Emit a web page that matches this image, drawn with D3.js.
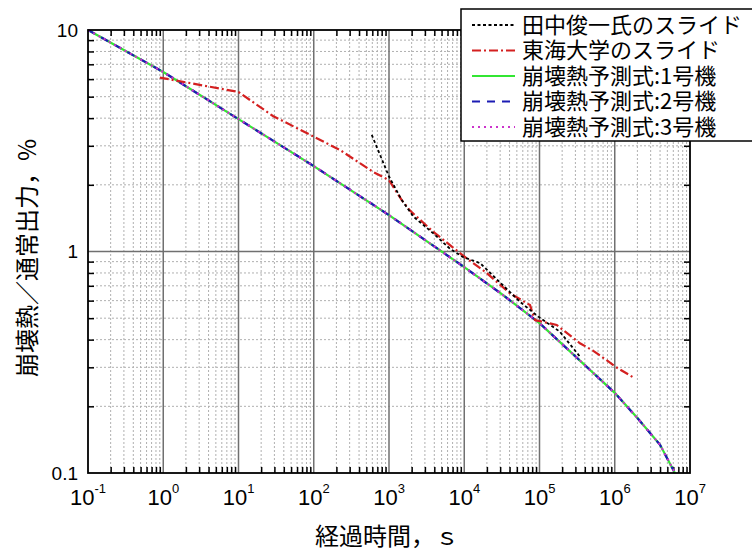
<!DOCTYPE html>
<html><head><meta charset="utf-8">
<script src="https://cdn.jsdelivr.net/npm/d3@7"></script>
<style>
html,body{margin:0;padding:0;background:#fff;}
svg{display:block;}
</style>
</head><body>
<svg id="chart" width="752" height="551"></svg>
<script>
// ---- data ----
const xExponents = [-1, 0, 1, 2, 3, 4, 5, 6, 7];
const yTickValues = [0.1, 1, 10];
const yTickLabels = ["0.1", "1", "10"];

const seriesNames = ["田中俊一氏のスライド", "東海大学のスライド", "崩壊熱予測式:1号機", "崩壊熱予測式:2号機", "崩壊熱予測式:3号機"];

const tanakaTime  = [590, 1000, 1470, 2100, 3850, 6450, 9600, 16200, 55000, 96300, 186000, 345000];
const tanakaValue = [3.36, 2.18, 1.71, 1.44, 1.21, 1.03, 0.944, 0.887, 0.593, 0.508, 0.435, 0.335];

const tokaiTime  = [0.9, 10, 28.7, 100, 224, 612, 1000, 1470, 1900, 3850, 9600, 19850, 40500, 74800, 87000, 169000, 345000, 513000, 780000, 1050000, 1770000];
const tokaiValue = [6.1, 5.25, 4.09, 3.30, 2.87, 2.29, 2.10, 1.71, 1.53, 1.23, 0.96, 0.80, 0.647, 0.573, 0.49, 0.466, 0.385, 0.357, 0.323, 0.30, 0.27];

const unit1Time  = [0.1, 1, 10, 100, 1000, 10000, 30000, 100000, 1000000, 2000000, 4000000, 6300000];
const unit1Value = [10, 6.46, 3.96, 2.43, 1.46, 0.85, 0.65, 0.475, 0.23, 0.177, 0.134, 0.1];
const unit2Time  = [0.1, 1, 10, 100, 1000, 10000, 30000, 100000, 1000000, 2000000, 4000000, 6100000];
const unit2Value = [10, 6.46, 3.96, 2.43, 1.46, 0.85, 0.65, 0.475, 0.23, 0.177, 0.134, 0.102];
const unit3Time  = [0.1, 1, 10, 100, 1000, 10000, 30000, 100000, 1000000, 2000000, 4000000, 6200000];
const unit3Value = [10, 6.46, 3.96, 2.43, 1.46, 0.85, 0.65, 0.475, 0.23, 0.177, 0.134, 0.101];

// ---- layout ----
const svg = d3.select("#chart");
const L = 88, R = 690, T = 30, B = 473;
const x = d3.scaleLog().domain([0.1, 1e7]).range([L, R]);
const y = d3.scaleLog().domain([0.1, 10]).range([B, T]);

const cjk = "'Noto Sans CJK JP', 'Noto Sans', sans-serif";
const latin = "'Liberation Sans', Arial, sans-serif";

// minor values
const xMinor = [];
for (let e = -1; e < 7; e++) for (let m = 2; m <= 9; m++) xMinor.push(m * Math.pow(10, e));
const yMinor = [];
for (let e = -1; e < 1; e++) for (let m = 2; m <= 9; m++) yMinor.push(+(m * Math.pow(10, e)).toPrecision(3));
const xMajor = xExponents.map(e => Math.pow(10, e));

// grid
const grid = svg.append("g");
grid.selectAll(".vminor").data(xMinor).join("line")
  .attr("x1", d => x(d)).attr("x2", d => x(d)).attr("y1", T).attr("y2", B)
  .attr("stroke", "#b0b0b0").attr("stroke-width", 1).attr("stroke-dasharray", "2,2");
grid.selectAll(".hminor").data(yMinor).join("line")
  .attr("y1", d => y(d)).attr("y2", d => y(d)).attr("x1", L).attr("x2", R)
  .attr("stroke", "#b0b0b0").attr("stroke-width", 1).attr("stroke-dasharray", "2,2");
grid.selectAll(".vmajor").data(xMajor.slice(1, -1)).join("line")
  .attr("x1", d => x(d)).attr("x2", d => x(d)).attr("y1", T).attr("y2", B)
  .attr("stroke", "#707070").attr("stroke-width", 1.5);
grid.selectAll(".hmajor").data([1]).join("line")
  .attr("y1", d => y(d)).attr("y2", d => y(d)).attr("x1", L).attr("x2", R)
  .attr("stroke", "#707070").attr("stroke-width", 1.5);

// axes (inward ticks)
function styleAxis(g) {
  g.select(".domain").remove();
  g.selectAll(".tick line").attr("stroke", "#000").attr("stroke-width", 1.5);
  g.selectAll(".tick text").remove();
}
svg.append("g").attr("transform", `translate(0,${B})`)
  .call(d3.axisBottom(x).tickValues(xMinor).tickSize(-6).tickFormat("")).call(styleAxis);
svg.append("g").attr("transform", `translate(0,${T})`)
  .call(d3.axisTop(x).tickValues(xMinor).tickSize(-6).tickFormat("")).call(styleAxis);
svg.append("g").attr("transform", `translate(${L},0)`)
  .call(d3.axisLeft(y).tickValues(yMinor).tickSize(-6).tickFormat("")).call(styleAxis);
svg.append("g").attr("transform", `translate(${R},0)`)
  .call(d3.axisRight(y).tickValues(yMinor).tickSize(-6).tickFormat("")).call(styleAxis);

// series
const line = d3.line().x(d => x(d[0])).y(d => y(d[1]));
const zip = (a, b) => a.map((t, i) => [t, b[i]]);
const series = [
  {name: seriesNames[2], data: zip(unit1Time, unit1Value), color: "#33e633", dash: null, w: 2.2},
  {name: seriesNames[3], data: zip(unit2Time, unit2Value), color: "#1c1cb4", dash: "8,7", w: 2.2},
  {name: seriesNames[4], data: zip(unit3Time, unit3Value), color: "#cc33cc", dash: "2,4", w: 2.2},
  {name: seriesNames[1], data: zip(tokaiTime, tokaiValue), color: "#d42020", dash: "9,3,2,3", w: 2.2},
  {name: seriesNames[0], data: zip(tanakaTime, tanakaValue), color: "#000000", dash: "3,2.5", w: 1.8},
];
const plot = svg.append("g");
series.forEach(s => {
  plot.append("path").datum(s.data).attr("d", line)
    .attr("fill", "none").attr("stroke", s.color).attr("stroke-width", s.w)
    .attr("stroke-dasharray", s.dash);
});

// border
svg.append("rect").attr("x", L).attr("y", T).attr("width", R - L).attr("height", B - T)
  .attr("fill", "none").attr("stroke", "#000").attr("stroke-width", 1.8);

// x tick labels
const xl = svg.append("g").attr("font-family", latin).attr("fill", "#000");
xl.selectAll("text").data(xExponents).join("text")
  .attr("x", d => x(Math.pow(10, d))).attr("y", 505)
  .attr("text-anchor", "middle")
  .each(function(d) {
    const t = d3.select(this);
    t.append("tspan").attr("font-size", 22).text("10");
    t.append("tspan").attr("font-size", 13).attr("dy", -12).text(String(d).replace("-", "-"));
  });

// y tick labels
svg.append("g").selectAll("text").data(yTickValues).join("text")
  .attr("x", 78).attr("y", d => y(d)).attr("dy", "0.36em")
  .attr("text-anchor", "end").attr("font-family", latin).attr("font-size", 19)
  .text((d, i) => yTickLabels[i]);

// axis titles
svg.append("text").attr("x", 387).attr("y", 545).attr("text-anchor", "middle")
  .attr("font-family", cjk).attr("font-size", 24).text("経過時間，ｓ");
svg.append("text").attr("transform", "translate(25,258) rotate(-90)")
  .attr("text-anchor", "middle").attr("dominant-baseline", "central")
  .attr("font-family", cjk).attr("font-size", 24).text("崩壊熱／通常出力，%");

// legend
const legendOrder = [
  {name: seriesNames[0], color: "#000000", dash: "3,2.5", w: 1.8},
  {name: seriesNames[1], color: "#d42020", dash: "9,3,2,3", w: 2.2},
  {name: seriesNames[2], color: "#33e633", dash: null, w: 2.2},
  {name: seriesNames[3], color: "#1c1cb4", dash: "8,7", w: 2.2},
  {name: seriesNames[4], color: "#cc33cc", dash: "2,4", w: 2.2},
];
const lg = svg.append("g");
lg.append("rect").attr("x", 461).attr("y", 9).attr("width", 300).attr("height", 132)
  .attr("fill", "#fff").attr("stroke", "#000").attr("stroke-width", 1.5);
legendOrder.forEach((s, i) => {
  const cy = 25 + i * 25.5;
  lg.append("line").attr("x1", 472).attr("x2", 515).attr("y1", cy).attr("y2", cy)
    .attr("stroke", s.color).attr("stroke-width", s.w).attr("stroke-dasharray", s.dash);
  lg.append("text").attr("x", 522).attr("y", cy).attr("dy", "0.36em")
    .attr("font-family", cjk).attr("font-size", 22).text(s.name);
});
</script>
</body></html>
